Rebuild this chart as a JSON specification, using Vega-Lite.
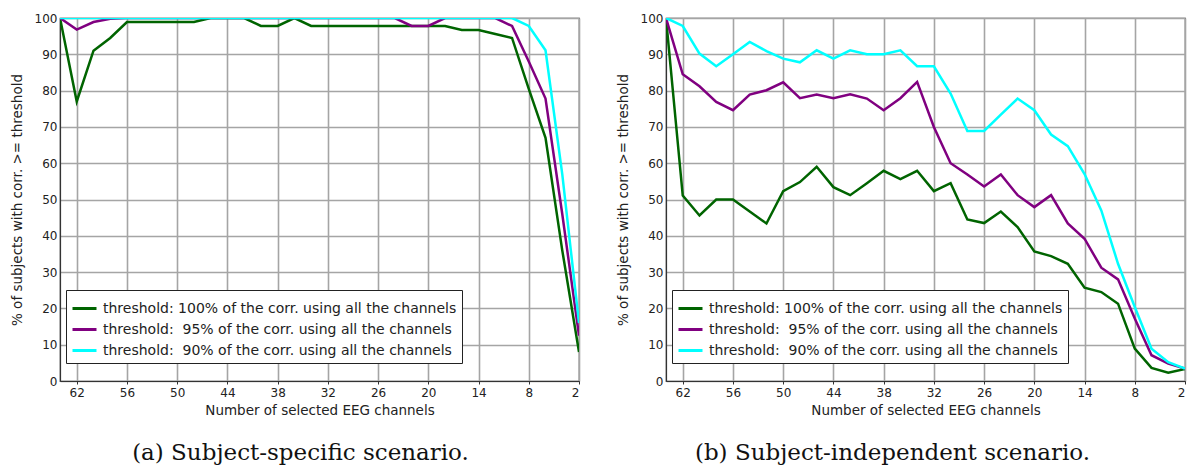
{
  "$schema": "https://vega.github.io/schema/vega-lite/v6.json",
  "background": "white",
  "padding": {"left": 9, "top": 11, "right": 1, "bottom": 2},
  "spacing": 34,
  "datasets": {
    "a": [
      {"t":"100","channels":64,"pct":100},{"t":"100","channels":62,"pct":77},{"t":"100","channels":60,"pct":91},{"t":"100","channels":58,"pct":94.5},
      {"t":"100","channels":56,"pct":98.9},{"t":"100","channels":54,"pct":98.9},{"t":"100","channels":52,"pct":98.9},{"t":"100","channels":50,"pct":98.9},
      {"t":"100","channels":48,"pct":98.9},{"t":"100","channels":46,"pct":100},{"t":"100","channels":44,"pct":100},{"t":"100","channels":42,"pct":100},
      {"t":"100","channels":40,"pct":97.8},{"t":"100","channels":38,"pct":97.8},{"t":"100","channels":36,"pct":100},{"t":"100","channels":34,"pct":97.8},
      {"t":"100","channels":32,"pct":97.8},{"t":"100","channels":30,"pct":97.8},{"t":"100","channels":28,"pct":97.8},{"t":"100","channels":26,"pct":97.8},
      {"t":"100","channels":24,"pct":97.8},{"t":"100","channels":22,"pct":97.8},{"t":"100","channels":20,"pct":97.8},{"t":"100","channels":18,"pct":97.8},
      {"t":"100","channels":16,"pct":96.7},{"t":"100","channels":14,"pct":96.7},{"t":"100","channels":12,"pct":95.6},{"t":"100","channels":10,"pct":94.5},
      {"t":"100","channels":8,"pct":80.5},{"t":"100","channels":6,"pct":67},{"t":"100","channels":4,"pct":36},{"t":"100","channels":2,"pct":8},
      {"t":"95","channels":64,"pct":100},{"t":"95","channels":62,"pct":96.8},{"t":"95","channels":60,"pct":98.9},{"t":"95","channels":58,"pct":99.8},
      {"t":"95","channels":56,"pct":100},{"t":"95","channels":54,"pct":100},{"t":"95","channels":52,"pct":100},{"t":"95","channels":50,"pct":100},
      {"t":"95","channels":48,"pct":100},{"t":"95","channels":46,"pct":100},{"t":"95","channels":44,"pct":100},{"t":"95","channels":42,"pct":100},
      {"t":"95","channels":40,"pct":100},{"t":"95","channels":38,"pct":100},{"t":"95","channels":36,"pct":100},{"t":"95","channels":34,"pct":100},
      {"t":"95","channels":32,"pct":100},{"t":"95","channels":30,"pct":100},{"t":"95","channels":28,"pct":100},{"t":"95","channels":26,"pct":100},
      {"t":"95","channels":24,"pct":100},{"t":"95","channels":22,"pct":97.8},{"t":"95","channels":20,"pct":97.8},{"t":"95","channels":18,"pct":100},
      {"t":"95","channels":16,"pct":100},{"t":"95","channels":14,"pct":100},{"t":"95","channels":12,"pct":100},{"t":"95","channels":10,"pct":97.8},
      {"t":"95","channels":8,"pct":88},{"t":"95","channels":6,"pct":77.8},{"t":"95","channels":4,"pct":46},{"t":"95","channels":2,"pct":12.5},
      {"t":"90","channels":64,"pct":100},{"t":"90","channels":62,"pct":100},{"t":"90","channels":60,"pct":100},{"t":"90","channels":58,"pct":100},
      {"t":"90","channels":56,"pct":100},{"t":"90","channels":54,"pct":100},{"t":"90","channels":52,"pct":100},{"t":"90","channels":50,"pct":100},
      {"t":"90","channels":48,"pct":100},{"t":"90","channels":46,"pct":100},{"t":"90","channels":44,"pct":100},{"t":"90","channels":42,"pct":100},
      {"t":"90","channels":40,"pct":100},{"t":"90","channels":38,"pct":100},{"t":"90","channels":36,"pct":100},{"t":"90","channels":34,"pct":100},
      {"t":"90","channels":32,"pct":100},{"t":"90","channels":30,"pct":100},{"t":"90","channels":28,"pct":100},{"t":"90","channels":26,"pct":100},
      {"t":"90","channels":24,"pct":100},{"t":"90","channels":22,"pct":100},{"t":"90","channels":20,"pct":100},{"t":"90","channels":18,"pct":100},
      {"t":"90","channels":16,"pct":100},{"t":"90","channels":14,"pct":100},{"t":"90","channels":12,"pct":100},{"t":"90","channels":10,"pct":100},
      {"t":"90","channels":8,"pct":97.8},{"t":"90","channels":6,"pct":91.1},{"t":"90","channels":4,"pct":57},{"t":"90","channels":2,"pct":16}
    ],
    "b": [
      {"t":"100","channels":64,"pct":100},{"t":"100","channels":62,"pct":51.1},{"t":"100","channels":60,"pct":45.6},{"t":"100","channels":58,"pct":50},
      {"t":"100","channels":56,"pct":50},{"t":"100","channels":54,"pct":46.7},{"t":"100","channels":52,"pct":43.4},{"t":"100","channels":50,"pct":52.3},
      {"t":"100","channels":48,"pct":54.8},{"t":"100","channels":46,"pct":59},{"t":"100","channels":44,"pct":53.4},{"t":"100","channels":42,"pct":51.2},
      {"t":"100","channels":40,"pct":54.5},{"t":"100","channels":38,"pct":57.9},{"t":"100","channels":36,"pct":55.6},{"t":"100","channels":34,"pct":57.9},
      {"t":"100","channels":32,"pct":52.3},{"t":"100","channels":30,"pct":54.5},{"t":"100","channels":28,"pct":44.5},{"t":"100","channels":26,"pct":43.5},
      {"t":"100","channels":24,"pct":46.7},{"t":"100","channels":22,"pct":42.4},{"t":"100","channels":20,"pct":35.7},{"t":"100","channels":18,"pct":34.4},
      {"t":"100","channels":16,"pct":32.3},{"t":"100","channels":14,"pct":25.7},{"t":"100","channels":12,"pct":24.5},{"t":"100","channels":10,"pct":21.3},
      {"t":"100","channels":8,"pct":8.9},{"t":"100","channels":6,"pct":3.6},{"t":"100","channels":4,"pct":2.3},{"t":"100","channels":2,"pct":3.3},
      {"t":"95","channels":64,"pct":100},{"t":"95","channels":62,"pct":84.5},{"t":"95","channels":60,"pct":81.2},{"t":"95","channels":58,"pct":76.9},
      {"t":"95","channels":56,"pct":74.6},{"t":"95","channels":54,"pct":78.9},{"t":"95","channels":52,"pct":80.1},{"t":"95","channels":50,"pct":82.3},
      {"t":"95","channels":48,"pct":77.9},{"t":"95","channels":46,"pct":78.9},{"t":"95","channels":44,"pct":77.9},{"t":"95","channels":42,"pct":79},
      {"t":"95","channels":40,"pct":77.8},{"t":"95","channels":38,"pct":74.6},{"t":"95","channels":36,"pct":77.9},{"t":"95","channels":34,"pct":82.4},
      {"t":"95","channels":32,"pct":70},{"t":"95","channels":30,"pct":60},{"t":"95","channels":28,"pct":56.9},{"t":"95","channels":26,"pct":53.6},
      {"t":"95","channels":24,"pct":56.9},{"t":"95","channels":22,"pct":51.2},{"t":"95","channels":20,"pct":47.9},{"t":"95","channels":18,"pct":51.2},
      {"t":"95","channels":16,"pct":43.4},{"t":"95","channels":14,"pct":39.2},{"t":"95","channels":12,"pct":31.2},{"t":"95","channels":10,"pct":28},
      {"t":"95","channels":8,"pct":17.2},{"t":"95","channels":6,"pct":7.1},{"t":"95","channels":4,"pct":4.8},{"t":"95","channels":2,"pct":3.4},
      {"t":"90","channels":64,"pct":100},{"t":"90","channels":62,"pct":97.8},{"t":"90","channels":60,"pct":90.2},{"t":"90","channels":58,"pct":86.7},
      {"t":"90","channels":56,"pct":90},{"t":"90","channels":54,"pct":93.4},{"t":"90","channels":52,"pct":90.9},{"t":"90","channels":50,"pct":88.8},
      {"t":"90","channels":48,"pct":87.8},{"t":"90","channels":46,"pct":91.1},{"t":"90","channels":44,"pct":88.8},{"t":"90","channels":42,"pct":91.1},
      {"t":"90","channels":40,"pct":90},{"t":"90","channels":38,"pct":90},{"t":"90","channels":36,"pct":91.1},{"t":"90","channels":34,"pct":86.7},
      {"t":"90","channels":32,"pct":86.7},{"t":"90","channels":30,"pct":79.2},{"t":"90","channels":28,"pct":68.9},{"t":"90","channels":26,"pct":68.9},
      {"t":"90","channels":24,"pct":73.4},{"t":"90","channels":22,"pct":77.8},{"t":"90","channels":20,"pct":74.6},{"t":"90","channels":18,"pct":67.9},
      {"t":"90","channels":16,"pct":64.7},{"t":"90","channels":14,"pct":57},{"t":"90","channels":12,"pct":47},{"t":"90","channels":10,"pct":32.3},
      {"t":"90","channels":8,"pct":20.4},{"t":"90","channels":6,"pct":8.9},{"t":"90","channels":4,"pct":5.2},{"t":"90","channels":2,"pct":3.4}
    ]
  },
  "hconcat": [
    {
      "data": {"name": "a"},
      "width": 519, "height": 363,
      "title": {"text": "(a) Subject-specific scenario.", "orient": "bottom", "anchor": "middle", "dx": -19, "offset": 25},
      "mark": {"type": "line", "strokeWidth": 2.5, "clip": true},
      "encoding": {
        "x": {"field": "channels", "type": "quantitative",
              "scale": {"domain": [2, 64], "reverse": true, "nice": false, "zero": false},
              "axis": {"values": [62,56,50,44,38,32,26,20,14,8,2], "title": "Number of selected EEG channels"}},
        "y": {"field": "pct", "type": "quantitative",
              "scale": {"domain": [0, 100], "nice": false},
              "axis": {"values": [0,10,20,30,40,50,60,70,80,90,100], "title": "% of subjects with corr. >= threshold"}},
        "color": {"field": "t", "type": "nominal",
                  "scale": {"domain": ["100","95","90"], "range": ["#006400","#800080","#00ffff"]},
                  "legend": {"orient": "none", "legendX": 6, "legendY": 272,
                             "labelExpr": "datum.label == '100' ? 'threshold: 100% of the corr. using all the channels' : 'threshold:\u00a0 ' + datum.label + '% of the corr. using all the channels'"}}
      }
    },
    {
      "data": {"name": "b"},
      "width": 519, "height": 363,
      "title": {"text": "(b) Subject-independent scenario.", "orient": "bottom", "anchor": "middle", "dx": -33, "offset": 25},
      "mark": {"type": "line", "strokeWidth": 2.5, "clip": true},
      "encoding": {
        "x": {"field": "channels", "type": "quantitative",
              "scale": {"domain": [2, 64], "reverse": true, "nice": false, "zero": false},
              "axis": {"values": [62,56,50,44,38,32,26,20,14,8,2], "title": "Number of selected EEG channels"}},
        "y": {"field": "pct", "type": "quantitative",
              "scale": {"domain": [0, 100], "nice": false},
              "axis": {"values": [0,10,20,30,40,50,60,70,80,90,100], "title": "% of subjects with corr. >= threshold"}},
        "color": {"field": "t", "type": "nominal",
                  "scale": {"domain": ["100","95","90"], "range": ["#006400","#800080","#00ffff"]},
                  "legend": {"orient": "none", "legendX": 6, "legendY": 272,
                             "labelExpr": "datum.label == '100' ? 'threshold: 100% of the corr. using all the channels' : 'threshold:\u00a0 ' + datum.label + '% of the corr. using all the channels'"}}
      }
    }
  ],
  "resolve": {"legend": {"color": "independent"}},
  "config": {
    "font": "DejaVu Sans",
    "view": {"stroke": "#333", "strokeWidth": 1.2},
    "axis": {
      "labelFont": "DejaVu Sans", "labelFontSize": 12, "labelColor": "#222",
      "titleFont": "DejaVu Sans", "titleFontSize": 13.5, "titleFontWeight": "normal", "titleColor": "#222",
      "gridColor": "#a5a5a5", "gridWidth": 1.6, "gridOpacity": 1,
      "domainColor": "#333", "domainWidth": 1.2, "tickColor": "#333", "tickSize": 3,
      "labelPadding": 3
    },
    "axisX": {"titlePadding": 5},
    "axisY": {"titlePadding": 10, "labelPadding": 3, "tickSize": 0},
    "legend": {
      "title": null,
      "symbolType": "stroke", "symbolSize": 576, "symbolStrokeWidth": 3,
      "labelFont": "DejaVu Sans", "labelFontSize": 14, "labelColor": "#222", "labelOffset": 5, "labelLimit": 500,
      "strokeColor": "#222", "fillColor": "white", "padding": 5, "rowPadding": -4, "cornerRadius": 0
    },
    "title": {"font": "DejaVu Serif", "fontSize": 23, "fontWeight": "normal", "color": "#111", "baseline": "top"}
  }
}
